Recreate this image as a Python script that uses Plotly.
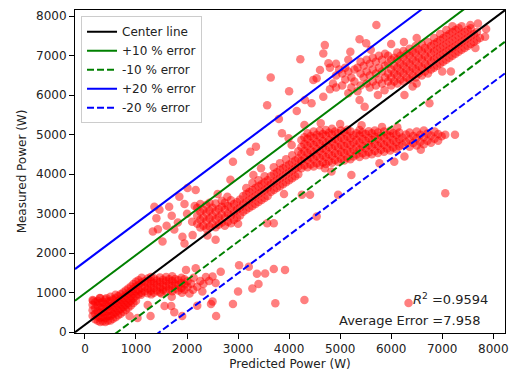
import plotly.graph_objects as go

# Measured vs predicted power samples (W). Dense regions are stored as
# columns: (predicted, [measured values at that predicted power]).
low_core = [
    (150, [420, 560, 700, 820]), (200, [330, 470, 610, 760]),
    (250, [290, 400, 530, 670, 800]), (300, [260, 370, 490, 620, 740, 860]),
    (350, [280, 390, 510, 640, 770]), (400, [260, 360, 470, 590, 710, 830]),
    (450, [290, 410, 530, 650, 780]), (500, [300, 420, 540, 660, 790, 900]),
    (550, [340, 460, 580, 700, 830]), (600, [380, 500, 620, 740, 860, 950]),
    (650, [430, 550, 670, 790, 910]), (700, [470, 590, 710, 830, 960]),
    (750, [520, 640, 760, 880, 1010]), (800, [570, 690, 810, 930, 1060]),
    (850, [620, 740, 860, 980, 1110]), (900, [680, 800, 920, 1040, 1160]),
    (950, [740, 860, 980, 1100, 1220]), (1000, [800, 920, 1040, 1160, 1280]),
    (1050, [960, 1080, 1200, 1320]), (1110, [1000, 1130, 1260, 1380]),
    (1170, [1040, 1160, 1290]), (1230, [990, 1110, 1240, 1360]),
    (1290, [1050, 1180, 1300, 1400]), (1350, [1000, 1120, 1250, 1370]),
    (1410, [1060, 1190, 1310]), (1470, [1010, 1140, 1270, 1390]),
    (1530, [1080, 1200, 1330]), (1590, [1030, 1160, 1290, 1400]),
    (1650, [1090, 1220, 1340]), (1710, [1040, 1170, 1300, 1420]),
    (1770, [1100, 1230, 1350]), (1830, [1060, 1190, 1320]),
    (1890, [1120, 1250, 1380]), (1950, [1080, 1210, 1340]),
    (2010, [1150, 1290]),
]

low_scatter = [
    (160, 800), (290, 870), (420, 860), (2080, 1230), (2130, 1380),
    (2170, 1620), (2200, 1150), (2260, 1300), (2320, 1220), (2370, 1400),
    (2430, 1300), (2500, 1410), (2560, 1250), (2660, 1530), (2300, 1030),
    (2500, 780), (1980, 1580), (1100, 950), (1300, 960), (1500, 980),
    (1700, 900), (1900, 1000), (2050, 980), (2120, 1080),
    (875, 410), (1030, 360), (1230, 690), (1285, 410), (1560, 665),
    (1690, 665), (1750, 510), (1905, 410), (2200, 670), (2470, 715),
    (2570, 410), (2900, 715), (3000, 1030), (3210, 1660), (3280, 1110),
    (3370, 1480), (3400, 1220), (3530, 1490), (3700, 1600), (3730, 735),
    (3920, 1580), (3020, 1700), (4300, 820), (6340, 740),
]

mid_core = [
    (2200, [2750, 2950, 3150]), (2260, [2650, 2850, 3050, 3250]),
    (2320, [2700, 2900, 3100]), (2380, [2620, 2820, 3020, 3220]),
    (2440, [2680, 2880, 3080, 3280]), (2500, [2750, 2950, 3150]),
    (2560, [2660, 2860, 3060, 3260]), (2620, [2720, 2920, 3120]),
    (2680, [2780, 2980, 3180, 3330]), (2740, [2700, 2900, 3100, 3280]),
    (2800, [2800, 3000, 3200]), (2860, [2760, 2960, 3160, 3340]),
    (2920, [2850, 3050, 3250]), (2980, [2900, 3100, 3300]),
    (3040, [2960, 3160, 3360]),
    (3100, [3050, 3250, 3450]), (3160, [3100, 3300, 3500, 3650]),
    (3220, [3150, 3350, 3550]), (3280, [3200, 3400, 3600, 3780]),
    (3340, [3250, 3450, 3650]), (3400, [3300, 3500, 3700, 3850]),
    (3460, [3350, 3550, 3750]), (3520, [3400, 3600, 3800, 3950]),
    (3580, [3450, 3650, 3850]),
    (3640, [3550, 3750, 3950]), (3700, [3600, 3800, 4000, 4180]),
    (3760, [3650, 3850, 4050]), (3820, [3700, 3900, 4100, 4280]),
    (3880, [3750, 3950, 4150]), (3940, [3800, 4000, 4200, 4380]),
    (4000, [3850, 4050, 4250]), (4060, [3900, 4100, 4300, 4480]),
    (4120, [3950, 4150, 4350]), (4180, [4000, 4200, 4400, 4580]),
    (4240, [4150, 4330, 4510, 4690, 4870]),
    (4300, [4220, 4400, 4580, 4760, 4940]),
    (4360, [4180, 4360, 4540, 4720, 4900, 5040]),
    (4420, [4250, 4430, 4610, 4790, 4970]),
    (4480, [4200, 4380, 4560, 4740, 4920, 5080]),
    (4540, [4280, 4460, 4640, 4820, 5000]),
    (4600, [4230, 4410, 4590, 4770, 4950, 5100]),
    (4660, [4300, 4480, 4660, 4840, 5020]),
    (4720, [4260, 4440, 4620, 4800, 4980, 5120]),
    (4780, [4330, 4510, 4690, 4870, 5050]),
    (4840, [4290, 4470, 4650, 4830, 5010, 5150]),
    (4900, [4360, 4540, 4720, 4900, 5080]),
    (4960, [4320, 4500, 4680, 4860, 5040]),
    (5020, [4390, 4570, 4750, 4930, 5110]),
    (5080, [4350, 4530, 4710, 4890, 5070]),
    (5140, [4420, 4600, 4780, 4960, 5130]),
    (5200, [4380, 4560, 4740, 4920, 5090]),
    (5260, [4450, 4630, 4810, 4990]), (5320, [4500, 4680, 4860, 5040]),
    (5380, [4440, 4620, 4800, 4980, 5120]), (5440, [4530, 4710, 4890, 5060]),
    (5500, [4480, 4660, 4840, 5020]), (5560, [4560, 4740, 4920, 5090]),
    (5620, [4510, 4690, 4870, 5040]), (5680, [4590, 4770, 4950, 5110]),
    (5740, [4540, 4720, 4900, 5060]), (5800, [4620, 4800, 4980]),
    (5860, [4570, 4750, 4930, 5080]), (5920, [4650, 4830, 5010]),
    (5980, [4600, 4780, 4960, 5100]), (6040, [4680, 4860, 5040]),
    (6100, [4640, 4820, 5000]), (6160, [4710, 4890, 5060]),
    (6220, [4750, 4930]), (6290, [4820, 5010]), (6360, [4700, 4880, 5060]),
    (6430, [4790, 4970]), (6500, [4730, 4910, 5080]), (6570, [4820, 5000]),
    (6640, [4760, 4940, 5110]), (6710, [4850, 5030]), (6780, [4800, 4980]),
    (6850, [4900, 5080]), (6920, [4850, 5020]), (6990, [4960]),
    (7060, [5000]),
]

mid_scatter = [
    (1330, 2550), (1400, 2890), (1430, 2610), (1460, 3100), (1520, 2300),
    (1650, 3180), (1820, 2780), (1850, 3430), (1910, 2420), (1950, 2250),
    (2010, 3650), (2110, 2460), (2170, 3600), (2560, 2340), (1600, 2700),
    (1700, 2950), (1750, 2600), (2000, 3000), (2100, 2800), (2150, 3200),
    (1950, 3250), (1360, 3180), (7250, 5000),
    (7060, 3520), (6580, 4620), (6260, 4450), (6060, 4320), (5770, 4280),
    (5220, 3980), (4830, 4070), (4700, 4150), (4960, 3480), (4410, 3480),
    (4250, 3480), (4540, 2930), (3570, 2760), (3700, 2760), (3860, 5040),
    (3990, 4910), (4050, 4740), (3240, 4570), (3350, 4700), (2900, 4320),
    (2850, 3860), (2790, 3430), (4300, 5250), (4620, 5290), (5000, 5270),
    (5420, 5240), (5820, 5200), (6120, 5190), (3450, 4150), (3300, 3980),
    (2600, 3500), (2400, 2450), (3000, 2750), (3900, 3500),
]

high_core = [
    (4800, [6150, 6700]), (4860, [6300]),
    (4920, [6200, 6500, 6800]), (4980, [6650]),
    (5040, [6250, 6550]), (5100, [6400, 6700]),
    (5160, [6050, 6600, 6900]), (5220, [6200, 6450]),
    (5280, [6350, 6650]), (5340, [6100, 6700]),
    (5400, [6250, 6550, 6850]), (5460, [6450, 6750]),
    (5520, [6300, 6600, 6900]), (5580, [6200, 6500, 6800]),
    (5640, [6350, 6650, 6950]), (5700, [6250, 6550, 6850]),
    (5760, [6400, 6700, 7000]), (5820, [6300, 6600, 6900]),
    (5880, [6450, 6750, 7050]), (5940, [6350, 6550, 6800, 7000]),
    (6000, [6250, 6450, 6650, 6900]), (6060, [6350, 6550, 6750, 6950]),
    (6120, [6300, 6500, 6700, 6900, 7080]), (6180, [6400, 6600, 6800, 7000]),
    (6240, [6350, 6550, 6750, 6950, 7120]), (6300, [6450, 6650, 6850, 7050]),
    (6360, [6400, 6600, 6800, 7000, 7180]), (6420, [6500, 6700, 6900, 7100]),
    (6480, [6450, 6650, 6850, 7050, 7250]), (6540, [6550, 6750, 6950, 7150]),
    (6600, [6500, 6700, 6900, 7100, 7300]), (6660, [6600, 6800, 7000, 7200]),
    (6720, [6550, 6750, 6950, 7150, 7350]), (6780, [6650, 6850, 7050, 7250]),
    (6840, [6700, 6900, 7100, 7300, 7450]), (6900, [6750, 6950, 7150, 7350]),
    (6960, [6800, 7000, 7200, 7400, 7550]), (7020, [6850, 7050, 7250, 7450]),
    (7080, [6900, 7100, 7300, 7500, 7650]), (7140, [6950, 7150, 7350, 7550]),
    (7200, [7000, 7200, 7400, 7600, 7750]), (7260, [7050, 7250, 7450, 7650]),
    (7320, [7100, 7300, 7500, 7700]), (7380, [7150, 7350, 7550, 7750]),
    (7440, [7200, 7400, 7600]), (7500, [7250, 7450, 7650]),
    (7560, [7300, 7500, 7700]), (7620, [7350, 7550]),
    (7680, [7400, 7600]), (7740, [7450]),
]

high_scatter = [
    (3570, 5750), (4440, 5800), (4310, 5880), (4670, 5965), (4220, 6910),
    (4475, 6390), (4540, 6430), (4605, 6640), (4670, 7060), (4700, 7270),
    (4770, 6810), (5380, 7420), (5510, 7320), (5710, 7780),
    (5480, 5710), (5380, 5880), (5740, 6010), (5870, 6130), (6260, 6010),
    (6420, 6220), (6750, 5800), (7170, 6600), (7650, 7200), (7840, 7480),
    (7550, 7780), (7700, 7820), (7860, 7680), (3640, 6450), (4000, 6100),
    (4150, 5600), (3800, 5400), (5200, 7100), (5600, 7150), (6000, 7300),
    (6250, 7350), (6500, 7450), (7000, 6600), (6500, 6300),
]

# Reference lines: centre fit and +/- error bands (offsets in W)
center_slope = 0.968
center_intercept = 189
error_bands = [
    ("Center line", 0, "black", "solid"),
    ("+10 % error", 800, "green", "solid"),
    ("-10 % error", -800, "green", "7px,3px"),
    ("+20 % error", 1600, "blue", "solid"),
    ("-20 % error", -1600, "blue", "7px,3px"),
]
line_x = [-195, 8230]

r2_value = 0.9594
avg_error = 7.958

x_ticks = [0, 1000, 2000, 3000, 4000, 5000, 6000, 7000, 8000]
y_ticks = [0, 1000, 2000, 3000, 4000, 5000, 6000, 7000, 8000]


def expand(columns):
    return [(x, y) for x, ys in columns for y in ys]


points = (expand(low_core) + low_scatter + expand(mid_core) + mid_scatter
          + expand(high_core) + high_scatter)
pred = [p[0] for p in points]
meas = [p[1] for p in points]

fig = go.Figure()
fig.add_trace(go.Scatter(
    x=pred, y=meas, mode="markers", showlegend=False,
    marker=dict(color="rgba(255,0,0,0.5)", size=8.5, line=dict(width=0)),
))

for name, offset, color, dash in error_bands:
    fig.add_trace(go.Scatter(
        x=line_x,
        y=[center_slope * v + center_intercept + offset for v in line_x],
        mode="lines", name=name,
        line=dict(color=color, width=2, dash=dash),
    ))

font = "DejaVu Sans, Arial, sans-serif"
axis_common = dict(
    showline=True, linecolor="black", linewidth=1, mirror=True,
    ticks="outside", ticklen=5, tickwidth=1, tickcolor="black",
    showgrid=False, zeroline=False, ticklabeloverflow="allow",
    tickfont=dict(family=font, size=12, color="#222"),
)

fig.update_layout(
    width=510, height=374,
    margin=dict(l=75, r=2, t=10, b=41),
    paper_bgcolor="white", plot_bgcolor="white",
    font=dict(family=font, size=12, color="#222"),
    xaxis=dict(range=[-195, 8230], tickvals=x_ticks,
               title=dict(text="Predicted Power (W)", font=dict(size=12), standoff=4),
               **axis_common),
    yaxis=dict(range=[-18, 8159], tickvals=y_ticks,
               title=dict(text="Measured Power (W)", font=dict(size=12), standoff=6),
               **axis_common),
    legend=dict(x=0.014, y=0.981, xanchor="left", yanchor="top",
                bgcolor="rgba(255,255,255,0.8)", bordercolor="#ccc", borderwidth=1,
                font=dict(family=font, size=12, color="#222"),
                tracegroupgap=0, itemwidth=30),
    showlegend=True,
    annotations=[
        dict(text="<i>R</i><sup>2</sup> =" + f"{r2_value:.4f}", x=0.965, y=0.105,
             xref="paper", yref="paper", xanchor="right", yanchor="middle",
             showarrow=False, font=dict(family=font, size=13, color="#222")),
        dict(text=f"Average Error ={avg_error:.3f}", x=0.947, y=0.040,
             xref="paper", yref="paper", xanchor="right", yanchor="middle",
             showarrow=False, font=dict(family=font, size=13, color="#222")),
    ],
)

fig.write_html("out.html")
